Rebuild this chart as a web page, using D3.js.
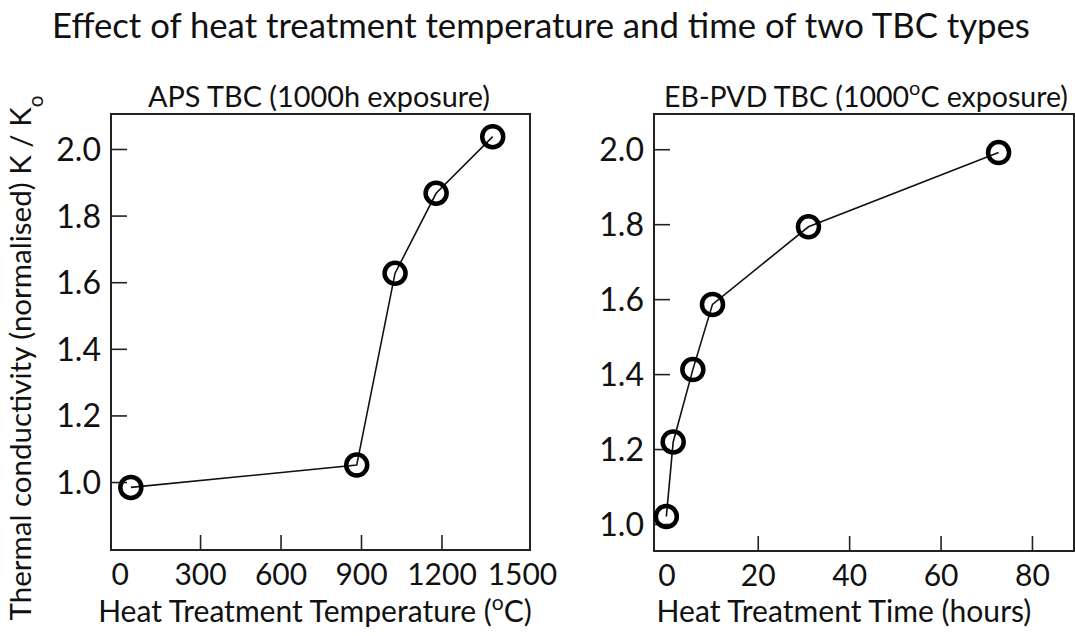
<!DOCTYPE html>
<html>
<head>
<meta charset="utf-8">
<script src="https://cdn.jsdelivr.net/npm/d3@7"></script>
<style>
  body { margin: 0; background: #fff; }
  text { font-family: Lato, "Open Sans", sans-serif; fill: #111; }
</style>
</head>
<body>
<div id="chart"></div>
<script>
// values
const apsTemp = [42, 884, 1027, 1180, 1391];
const apsK = [0.984, 1.051, 1.627, 1.867, 2.037];
const ebTime = [0, 1.5, 5.8, 10.1, 31.1, 72.7];
const ebK = [1.02, 1.219, 1.412, 1.586, 1.793, 1.991];

const kTicks = [1.0, 1.2, 1.4, 1.6, 1.8, 2.0];
const apsXTicks = [0, 300, 600, 900, 1200, 1500];
const ebXTicks = [0, 20, 40, 60, 80];

const W = 1075, H = 636;

const svg = d3.select("#chart")
    .append("svg")
    .attr("width", W)
    .attr("height", H);

// shrink/grow a text so it spans a given width
function fit(sel, w) {
    const fs = parseFloat(sel.style("font-size"));
    const len = sel.node().getComputedTextLength();
    sel.style("font-size", (fs * w / len) + "px");
}

function panel(cfg) {
    const x = d3.scaleLinear().domain(cfg.xDomain).range([cfg.left, cfg.right]);
    const y = d3.scaleLinear().domain(cfg.yDomain).range([cfg.bottom, cfg.top]);

    // frame
    svg.append("rect")
        .attr("x", cfg.left)
        .attr("y", cfg.top)
        .attr("width", cfg.right - cfg.left)
        .attr("height", cfg.bottom - cfg.top)
        .attr("fill", "none")
        .attr("stroke", "#222")
        .attr("stroke-width", 2);

    // y axis, ticks pointing inside
    const ya = svg.append("g")
        .attr("transform", `translate(${cfg.left},0)`)
        .call(d3.axisLeft(y).tickValues(kTicks).tickSize(-16).tickPadding(10)
            .tickFormat(d3.format(".1f")));
    ya.select(".domain").remove();
    ya.selectAll("line").attr("stroke", "#222").attr("stroke-width", 1.6);
    ya.selectAll("text").style("font-size", "32px").attr("fill", "#111")
        .attr("dy", "0.36em");

    // x axis, ticks pointing up, only inner values get a tick mark
    const xa = svg.append("g")
        .attr("transform", `translate(0,${cfg.bottom})`)
        .call(d3.axisBottom(x).tickValues(cfg.xTicks).tickSize(-15).tickPadding(13)
            .tickFormat(d3.format("d")));
    xa.select(".domain").remove();
    xa.selectAll("line")
        .attr("stroke", "#222").attr("stroke-width", 1.6)
        .attr("display", function(d) { return cfg.noTick.includes(d) ? "none" : null; });
    xa.selectAll("text").style("font-size", "30px").attr("fill", "#111")
        .attr("dy", "0.72em");

    // line + hollow markers
    const pts = cfg.xs.map(function(v, i) { return [v, cfg.ys[i]]; });
    svg.append("path")
        .datum(pts)
        .attr("fill", "none")
        .attr("stroke", "#111")
        .attr("stroke-width", 1.6)
        .attr("d", d3.line().x(function(d) { return x(d[0]); }).y(function(d) { return y(d[1]); }));

    svg.append("g")
        .selectAll("circle")
        .data(pts)
        .enter()
        .append("circle")
        .attr("cx", function(d) { return x(d[0]); })
        .attr("cy", function(d) { return y(d[1]); })
        .attr("r", 10.5)
        .attr("fill", "none")
        .attr("stroke", "#000")
        .attr("stroke-width", 4.5);

    // panel title
    const t = svg.append("text")
        .attr("x", cfg.titleX)
        .attr("y", 107)
        .attr("text-anchor", "middle")
        .style("font-size", "22px");
    cfg.title(t);
    fit(t, cfg.titleW);

    // x label
    const xl = svg.append("text")
        .attr("x", cfg.xLabelX)
        .attr("y", 622)
        .attr("text-anchor", "middle")
        .style("font-size", "24px");
    cfg.xLabel(xl);
    fit(xl, cfg.xLabelW);
}

panel({
    left: 111, right: 530, top: 114, bottom: 550,
    xDomain: [-32, 1530], yDomain: [0.796, 2.105],
    xTicks: apsXTicks, noTick: [0, 1500],
    xs: apsTemp, ys: apsK,
    titleX: 319, titleW: 342,
    title: function(s) { s.text("APS TBC (1000h exposure)"); },
    xLabelX: 315, xLabelW: 434,
    xLabel: function(s) {
        s.append("tspan").text("Heat Treatment Temperature (");
        s.append("tspan").attr("baseline-shift", "super").style("font-size", "0.7em").text("o");
        s.append("tspan").text("C)");
    }
});

panel({
    left: 654, right: 1074, top: 114, bottom: 551,
    xDomain: [-2.7, 89.2], yDomain: [0.928, 2.094],
    xTicks: ebXTicks, noTick: [0],
    xs: ebTime, ys: ebK,
    titleX: 866, titleW: 404,
    title: function(s) {
        s.append("tspan").text("EB-PVD TBC (1000");
        s.append("tspan").attr("baseline-shift", "super").style("font-size", "0.7em").text("o");
        s.append("tspan").text("C exposure)");
    },
    xLabelX: 844, xLabelW: 375,
    xLabel: function(s) { s.text("Heat Treatment Time (hours)"); }
});

// main title
const mt = svg.append("text")
    .attr("x", 541)
    .attr("y", 38)
    .attr("text-anchor", "middle")
    .style("font-size", "28px")
    .text("Effect of heat treatment temperature and time of two TBC types");
fit(mt, 978);

// shared y label
const yl = svg.append("text")
    .attr("transform", "translate(31,358) rotate(-90)")
    .attr("text-anchor", "middle")
    .style("font-size", "24px");
yl.append("tspan").text("Thermal conductivity (normalised) K / K");
yl.append("tspan").attr("baseline-shift", "sub").style("font-size", "0.7em").text("o");
fit(yl, 525);
</script>
</body>
</html>
